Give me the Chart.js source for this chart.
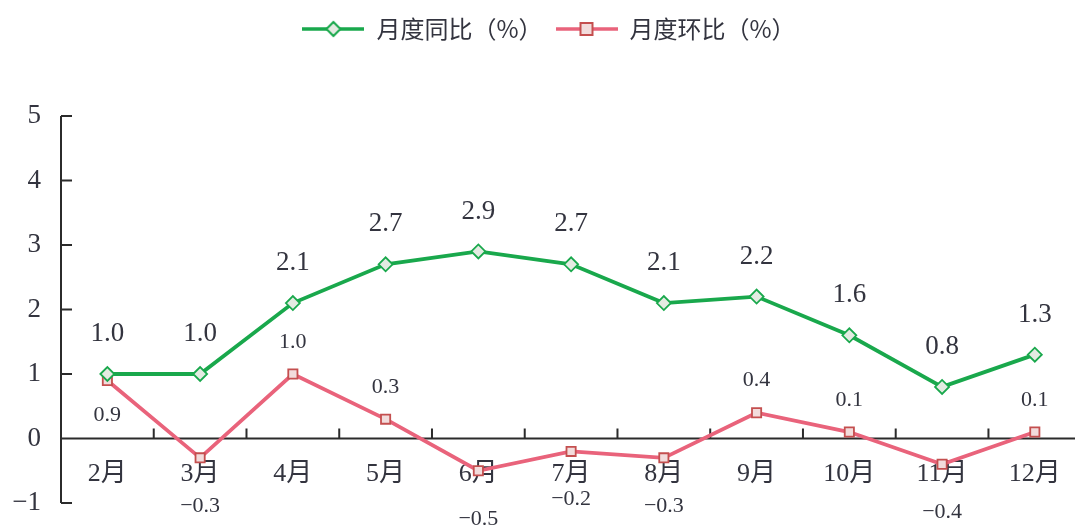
<!DOCTYPE html>
<html><head><meta charset="utf-8">
<script src="https://cdn.jsdelivr.net/npm/chart.js@4.4.0/dist/chart.umd.min.js"></script>
<style>
html,body{margin:0;padding:0;background:#fff;overflow:hidden}
#wrap{width:1075px;height:527px;overflow:hidden;position:relative}
#box{width:1090px;height:527px;position:absolute;left:0;top:0}
</style></head>
<body><div id="wrap"><div id="box"><canvas id="c"></canvas></div></div>
<script>
const categories = ['2月','3月','4月','5月','6月','7月','8月','9月','10月','11月','12月'];
const yoyValues = [1.0, 1.0, 2.1, 2.7, 2.9, 2.7, 2.1, 2.2, 1.6, 0.8, 1.3];
const momValues = [0.9, -0.3, 1.0, 0.3, -0.5, -0.2, -0.3, 0.4, 0.1, -0.4, 0.1];
const momLabelSide = ['below','below','above','above','below','below','below','above','above','below','above'];
const yTicks = [-1, 0, 1, 2, 3, 4, 5];
const seriesNames = ['月度同比（%）', '月度环比（%）'];

const GREEN = '#19a84c', GREEN_FILL = '#e4ebe2';
const RED_LINE = '#e9637b', RED_BORDER = '#c44f4f', RED_FILL = '#f2dcdc';
const TEXT = '#33343f';
const SERIF = "'Liberation Serif','Noto Sans CJK SC',serif";

function legendImage(kind) {
  const c = document.createElement('canvas');
  c.width = 62; c.height = 18;
  const g = c.getContext('2d');
  g.lineWidth = 3.5;
  g.strokeStyle = kind === 'g' ? GREEN : RED_LINE;
  g.beginPath(); g.moveTo(0, 9); g.lineTo(62, 9); g.stroke();
  if (kind === 'g') {
    g.fillStyle = GREEN_FILL; g.strokeStyle = GREEN; g.lineWidth = 2;
    g.beginPath(); g.moveTo(31, 2); g.lineTo(38, 9); g.lineTo(31, 16); g.lineTo(24, 9); g.closePath();
    g.fill(); g.stroke();
  } else {
    g.fillStyle = RED_FILL; g.strokeStyle = RED_BORDER; g.lineWidth = 2;
    g.fillRect(25, 3, 12, 12); g.strokeRect(25, 3, 12, 12);
  }
  return c;
}
const legendImgs = [legendImage('g'), legendImage('r')];

const legendSpacer = {
  id: 'legendSpacer',
  beforeLayout(chart) {
    const lg = chart.legend;
    if (lg && !lg._patched) {
      const f = lg.fit;
      lg.fit = function () { f.call(this); this.height += 65; };
      lg._patched = true;
    }
  }
};

const axesPlugin = {
  id: 'axesPlugin',
  beforeDatasetsDraw(chart) {
    const {ctx, chartArea, scales: {x, y}} = chart;
    ctx.save();
    ctx.strokeStyle = '#2b2b2b';
    ctx.lineWidth = 2;
    const left = chartArea.left;
    ctx.beginPath();
    ctx.moveTo(left, y.getPixelForValue(yTicks[yTicks.length - 1]));
    ctx.lineTo(left, y.getPixelForValue(yTicks[0]));
    yTicks.forEach(v => {
      const py = y.getPixelForValue(v);
      ctx.moveTo(left, py); ctx.lineTo(left + 11, py);
    });
    const y0 = y.getPixelForValue(0);
    ctx.moveTo(left, y0); ctx.lineTo(chart.width, y0);
    const step = x.getPixelForValue(1) - x.getPixelForValue(0);
    for (let i = 0; i <= categories.length; i++) {
      const px = x.getPixelForValue(i) - step / 2;
      ctx.moveTo(px, y0); ctx.lineTo(px, y0 - 10);
    }
    ctx.stroke();
    ctx.restore();
  }
};

const labelsPlugin = {
  id: 'labelsPlugin',
  afterDatasetsDraw(chart) {
    const {ctx} = chart;
    ctx.save();
    ctx.fillStyle = TEXT;
    ctx.textAlign = 'center';
    ctx.textBaseline = 'middle';
    const m0 = chart.getDatasetMeta(0);
    ctx.font = "27px " + SERIF;
    m0.data.forEach((pt, i) => {
      ctx.fillText(yoyValues[i].toFixed(1), pt.x, pt.y - 40);
    });
    const m1 = chart.getDatasetMeta(1);
    ctx.font = "22px " + SERIF;
    m1.data.forEach((pt, i) => {
      const v = momValues[i];
      const txt = v < 0 ? '\u2212' + Math.abs(v).toFixed(1) : v.toFixed(1);
      let dy;
      if (momLabelSide[i] === 'above') dy = -32;
      else dy = v < 0 ? 48 : 35;
      ctx.fillText(txt, pt.x, pt.y + dy);
    });
    ctx.restore();
  }
};

new Chart(document.getElementById('c'), {
  type: 'line',
  data: {
    labels: categories,
    datasets: [
      {
        label: seriesNames[0], data: yoyValues,
        borderColor: GREEN, borderWidth: 3.8,
        pointStyle: 'rectRot', pointRadius: 7, pointBorderWidth: 1.8,
        pointBackgroundColor: GREEN_FILL, pointBorderColor: GREEN,
        tension: 0, clip: false
      },
      {
        label: seriesNames[1], data: momValues,
        borderColor: RED_LINE, borderWidth: 3.8,
        pointStyle: 'rect', pointRadius: 6.5, pointBorderWidth: 1.8,
        pointBackgroundColor: RED_FILL, pointBorderColor: RED_BORDER,
        tension: 0, clip: false
      }
    ]
  },
  options: {
    responsive: true, maintainAspectRatio: false, animation: false,
    layout: {padding: {top: 4, right: 4, bottom: 24, left: 12}},
    plugins: {
      tooltip: {enabled: false},
      legend: {
        position: 'top',
        labels: {
          usePointStyle: true, pointStyleWidth: 62, boxHeight: 16, padding: 13,
          color: TEXT,
          font: {family: "'Noto Sans CJK SC',sans-serif", size: 24},
          generateLabels(chart) {
            return chart.data.datasets.map((ds, i) => ({
              text: ds.label, pointStyle: legendImgs[i], datasetIndex: i,
              fillStyle: 'transparent', strokeStyle: 'transparent', lineWidth: 0, fontColor: TEXT
            }));
          }
        }
      }
    },
    scales: {
      x: {
        type: 'category', offset: true, position: {y: 0},
        grid: {display: false, drawTicks: false},
        border: {display: false},
        ticks: {color: TEXT, font: {family: SERIF, size: 26}, padding: 20, maxRotation: 0, autoSkip: false}
      },
      y: {
        min: yTicks[0], max: yTicks[yTicks.length - 1],
        afterBuildTicks(s) { s.ticks = yTicks.map(v => ({value: v})); },
        afterFit(s) { s.width = 49; s.paddingTop = 0; s.paddingBottom = 0; },
        grid: {display: false, drawTicks: false},
        border: {display: false},
        ticks: {color: TEXT, font: {family: SERIF, size: 27}, padding: 20,
          callback: v => v < 0 ? '\u2212' + Math.abs(v) : String(v)}
      }
    }
  },
  plugins: [legendSpacer, axesPlugin, labelsPlugin]
});
</script>
</body></html>
